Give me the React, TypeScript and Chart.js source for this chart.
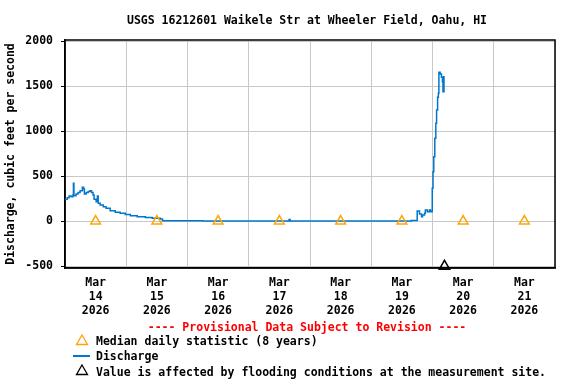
import React, { useEffect, useRef } from 'react';
import { Chart, registerables } from 'chart.js';

Chart.register(...registerables);

const TITLE = 'USGS 16212601 Waikele Str at Wheeler Field, Oahu, HI';
const Y_TITLE = 'Discharge, cubic feet per second';
const MONTH = 'Mar';
const YEAR = '2026';
const DAY_LABELS = ['14', '15', '16', '17', '18', '19', '20', '21'];
const Y_TICKS = [-500, 0, 500, 1000, 1500, 2000];
const PROVISIONAL = '---- Provisional Data Subject to Revision ----';
const LEGEND_MEDIAN = 'Median daily statistic (8 years)';
const LEGEND_DISCHARGE = 'Discharge';
const LEGEND_FLOOD = 'Value is affected by flooding conditions at the measurement site.';

// hours since Mar 14 00:00
const dischargeHours = [
  0, 0.9, 1.6, 2.4, 3.1, 3.3, 3.5, 4.3, 5.1, 5.9, 6.8, 7.3, 7.6, 8.3, 9.1, 9.8,
  10.4, 11.0, 11.4, 12.2, 12.7, 13.0, 13.8, 15.0, 16.1, 17.7, 19.7, 21.6, 23.6,
  25.6, 28.3, 31.5, 34.2, 37.4, 38.2, 53.9, 87.5, 87.8, 88.2, 135.3, 135.7,
  137.0, 138.0, 138.9, 139.7, 140.1, 140.9, 141.2, 142.0, 142.8, 143.2, 143.7,
  143.9, 144.2, 144.5, 144.9, 145.3, 145.6, 146.0, 146.3, 146.5, 147.0, 147.5,
  147.9, 148.1, 148.3, 148.5,
];
const dischargeValues = [
  244, 262, 280, 273, 292, 422, 285, 303, 320, 340, 377, 360, 303, 320, 330, 340,
  320, 292, 244, 218, 281, 200, 181, 162, 144, 118, 100, 89, 75,
  62, 51, 42, 35, 25, 7, 2, 2, 20, 2, 2, 10,
  10, 114, 81, 51, 70, 90, 126, 107, 126, 107, 110,
  367, 551, 718, 922, 1089, 1237, 1377, 1422, 1655, 1637, 1600,
  1551, 1440, 1607, 1432,
];

const medianHours = [12, 36, 60, 84, 108, 132, 156, 180];
const medianValues = [2, 2, 2, 2, 2, 2, 2, 2];

const floodHours = [148.7];
const floodValues = [-500];

const FONT_FAMILY = '"DejaVu Sans Mono", monospace';
const FONT_SIZE = 11.5;
const FONT = { family: FONT_FAMILY, size: FONT_SIZE, weight: 'bold' as const };

const framePlugin = {
  id: 'frame',
  beforeDatasetsDraw(chart: any) {
    const { ctx, chartArea } = chart;
    ctx.save();
    ctx.strokeStyle = '#000';
    ctx.lineWidth = 1.5;
    ctx.strokeRect(chartArea.left, chartArea.top, chartArea.right - chartArea.left, chartArea.bottom - chartArea.top);
    ctx.restore();
  },
};

function Tri({ color }: { color: string }) {
  return (
    <svg width="14" height="12" viewBox="0 0 14 12" style={{ display: 'block' }}>
      <polygon points="7,1 12.5,10.5 1.5,10.5" fill="none" stroke={color} strokeWidth="1.3" />
    </svg>
  );
}

export default function App() {
  const ref = useRef<HTMLCanvasElement | null>(null);

  useEffect(() => {
    if (!ref.current) return;
    const chart = new Chart(ref.current, {
      type: 'line',
      data: {
        datasets: [
          {
            label: 'Discharge',
            data: dischargeHours.map((h, i) => ({ x: h, y: dischargeValues[i] })),
            borderColor: '#0077cc',
            borderWidth: 1.5,
            pointRadius: 0,
            stepped: true,
            fill: false,
            order: 2,
          },
          {
            label: 'Median',
            type: 'scatter',
            data: medianHours.map((h, i) => ({ x: h, y: medianValues[i] })),
            pointStyle: 'triangle',
            pointRadius: 5.6,
            borderColor: '#ffa500',
            backgroundColor: 'rgba(0,0,0,0)',
            pointBorderWidth: 1.5,
            showLine: false,
            order: 1,
          } as any,
          {
            label: 'Flood',
            type: 'scatter',
            data: floodHours.map((h, i) => ({ x: h, y: floodValues[i] })),
            pointStyle: 'triangle',
            pointRadius: 6,
            borderColor: '#000',
            backgroundColor: 'rgba(255,255,255,0)',
            pointBorderWidth: 1.5,
            showLine: false,
            clip: false,
            order: 0,
          } as any,
        ],
      },
      options: {
        animation: false,
        responsive: false,
        maintainAspectRatio: false,
        layout: { padding: { left: 0, right: 21, top: 40, bottom: 66 } },
        plugins: {
          legend: { display: false },
          tooltip: { enabled: false },
          title: { display: false },
        },
        scales: {
          x: {
            type: 'linear',
            min: 0,
            max: 192,
            afterBuildTicks: (s: any) => {
              const t = [];
              for (let v = 0; v <= 192; v += 12) t.push({ value: v });
              s.ticks = t;
            },
            afterFit: (s: any) => {
              s.height = 50;
            },
            grid: {
              color: (c: any) => (c.tick && c.tick.value % 24 === 0 ? '#c8c8c8' : 'rgba(0,0,0,0)'),
              drawTicks: false,
              lineWidth: 1,
            },
            border: { display: true, color: '#000', width: 1.5 },
            ticks: {
              autoSkip: false,
              maxRotation: 0,
              minRotation: 0,
              padding: 8,
              color: '#000',
              font: { ...FONT, lineHeight: 1.22 },
              callback: (v: any) => {
                const n = Number(v);
                if (n % 24 === 12) return [MONTH, DAY_LABELS[(n - 12) / 24], YEAR];
                return '';
              },
            },
          },
          y: {
            type: 'linear',
            min: -519,
            max: 2014,
            afterBuildTicks: (s: any) => {
              s.ticks = Y_TICKS.map((v) => ({ value: v }));
            },
            afterFit: (s: any) => {
              s.width = 65;
            },
            grid: { color: '#c8c8c8', tickLength: 4, tickColor: '#000', lineWidth: 1 },
            border: { display: true, color: '#000', width: 1.5 },
            ticks: {
              padding: 8,
              color: '#000',
              font: FONT,
              callback: (v: any) => String(v),
            },
            title: {
              display: true,
              text: Y_TITLE,
              color: '#000',
              font: FONT,
              padding: { top: 4, bottom: 0 },
            },
          },
        },
      },
      plugins: [framePlugin],
    } as any);
    return () => chart.destroy();
  }, []);

  const textStyle: React.CSSProperties = {
    position: 'absolute',
    fontFamily: FONT_FAMILY,
    fontSize: FONT_SIZE + 'px',
    fontWeight: 'bold',
    lineHeight: '14px',
    whiteSpace: 'nowrap',
    color: '#000',
  };

  return (
    <div style={{ position: 'fixed', left: 0, top: 0, width: 576, height: 384, background: '#fff', overflow: 'hidden' }}>
      <canvas ref={ref} width={576} height={384} style={{ position: 'absolute', left: 0, top: 0, width: 576, height: 384 }} />
      <div style={{ ...textStyle, left: 0, width: 614, top: 13, textAlign: 'center' }}>{TITLE}</div>
      <div style={{ ...textStyle, left: 0, width: 614, top: 320, textAlign: 'center', color: '#ff0000' }}>{PROVISIONAL}</div>
      <div style={{ position: 'absolute', left: 75, top: 334 }}><Tri color="#ffa500" /></div>
      <div style={{ ...textStyle, left: 96, top: 334 }}>{LEGEND_MEDIAN}</div>
      <div style={{ position: 'absolute', left: 73, top: 355, width: 17, height: 1.5, background: '#0077cc' }} />
      <div style={{ ...textStyle, left: 96, top: 349 }}>{LEGEND_DISCHARGE}</div>
      <div style={{ position: 'absolute', left: 75, top: 364 }}><Tri color="#000" /></div>
      <div style={{ ...textStyle, left: 96, top: 365 }}>{LEGEND_FLOOD}</div>
    </div>
  );
}
